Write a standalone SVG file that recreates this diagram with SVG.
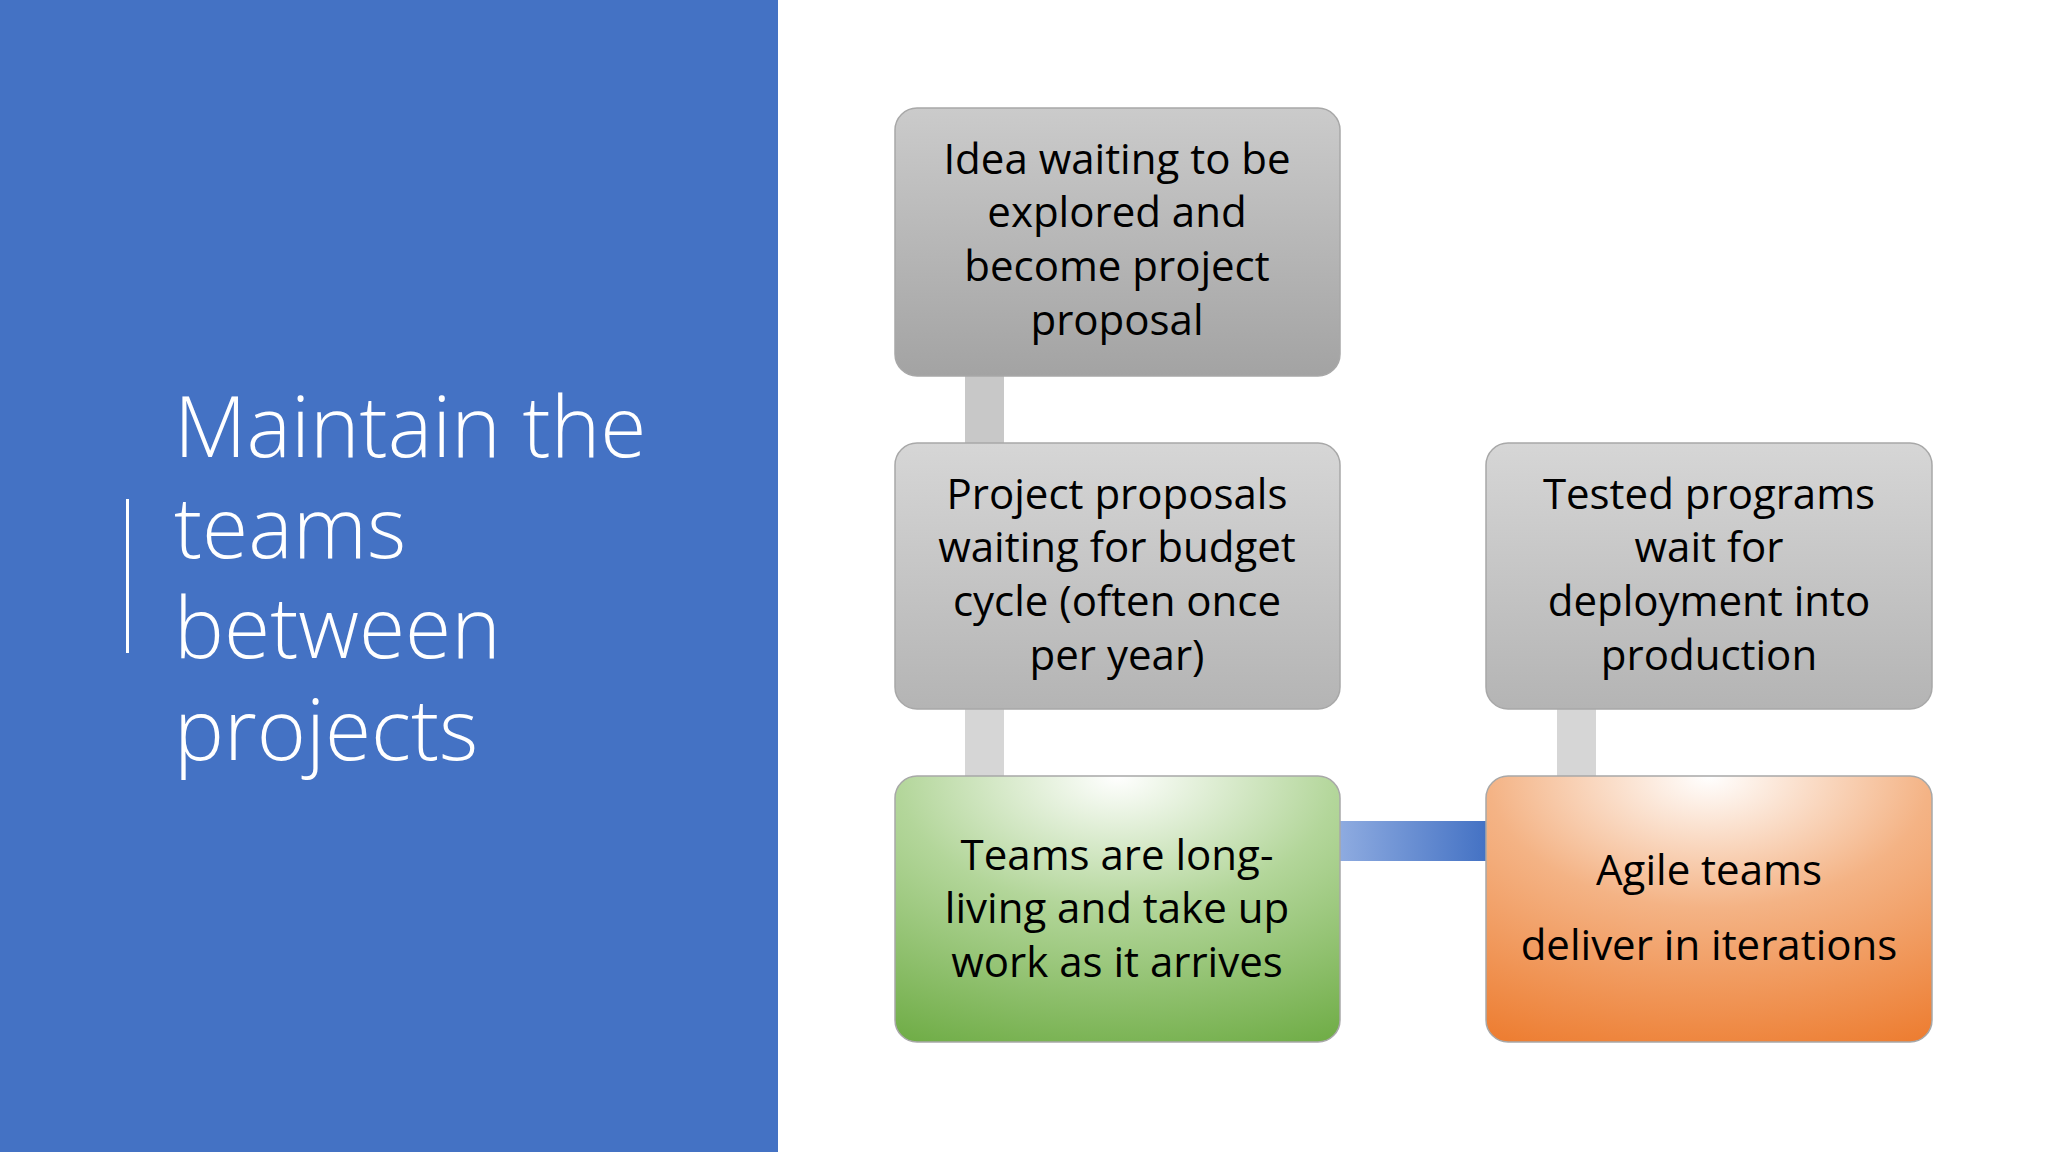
<svg xmlns="http://www.w3.org/2000/svg" width="2048" height="1152" viewBox="0 0 2048 1152">
<defs>
<linearGradient id="g1" x1="0" y1="0" x2="0" y2="1"><stop offset="0" stop-color="#cbcbcb"/><stop offset="1" stop-color="#a3a3a3"/></linearGradient>
<linearGradient id="g2" x1="0" y1="0" x2="0" y2="1"><stop offset="0" stop-color="#d6d6d6"/><stop offset="1" stop-color="#b4b4b4"/></linearGradient>
<radialGradient id="gg" cx="0.5" cy="0" r="1.1"><stop offset="0" stop-color="#ffffff"/><stop offset="0.45" stop-color="#b3d69a"/><stop offset="1" stop-color="#70ad47"/></radialGradient>
<radialGradient id="go" cx="0.5" cy="0" r="1.1"><stop offset="0" stop-color="#ffffff"/><stop offset="0.45" stop-color="#f4b385"/><stop offset="1" stop-color="#ed7d31"/></radialGradient>
<linearGradient id="gb" x1="0" y1="0" x2="1" y2="0"><stop offset="0" stop-color="#8eabe0"/><stop offset="1" stop-color="#4472c4"/></linearGradient>
<style>
.box{stroke:#a8a8a8;stroke-width:1.5}
.t{font-family:"Open Sans","Noto Sans",sans-serif;font-size:42px;fill:#000;text-anchor:middle}
.title{font-family:"Open Sans","Noto Sans",sans-serif;font-weight:300;font-size:84px;fill:#fff}
</style>
</defs>
<rect width="2048" height="1152" fill="#fff"/>
<rect width="778" height="1152" fill="#4472c4"/>
<rect x="126" y="499" width="3" height="154" fill="#fff"/>
<g id="title">
<text class="title" x="174" y="457">Maintain the</text>
<text class="title" x="174" y="558">teams</text>
<text class="title" x="174" y="658">between</text>
<text class="title" x="174" y="760">projects</text>
</g>
<g id="connectors">
<rect x="965" y="376" width="39" height="67" fill="#c8c8c8"/>
<rect x="965" y="709" width="39" height="67" fill="#d6d6d6"/>
<rect x="1557" y="709" width="39" height="67" fill="#d6d6d6"/>
<rect x="1340" y="821" width="146" height="40" fill="url(#gb)"/>
</g>
<g id="n1"><rect class="box" x="895" y="108" width="445" height="268" rx="22" fill="url(#g1)"/>
<text class="t" x="1117" y="174">Idea waiting to be</text><text class="t" x="1117" y="227">explored and</text><text class="t" x="1117" y="281">become project</text><text class="t" x="1117" y="335">proposal</text></g>
<g id="n2"><rect class="box" x="895" y="443" width="445" height="266" rx="22" fill="url(#g2)"/>
<text class="t" x="1117" y="509">Project proposals</text><text class="t" x="1117" y="562">waiting for budget</text><text class="t" x="1117" y="616">cycle (often once</text><text class="t" x="1117" y="670">per year)</text></g>
<g id="n3"><rect class="box" x="895" y="776" width="445" height="266" rx="22" fill="url(#gg)"/>
<text class="t" x="1117" y="870">Teams are long-</text><text class="t" x="1117" y="923">living and take up</text><text class="t" x="1117" y="977">work as it arrives</text></g>
<g id="n4"><rect class="box" x="1486" y="443" width="446" height="266" rx="22" fill="url(#g2)"/>
<text class="t" x="1709" y="509">Tested programs</text><text class="t" x="1709" y="562">wait for</text><text class="t" x="1709" y="616">deployment into</text><text class="t" x="1709" y="670">production</text></g>
<g id="n5"><rect class="box" x="1486" y="776" width="446" height="266" rx="22" fill="url(#go)"/>
<text class="t" x="1709" y="885">Agile teams</text><text class="t" x="1709" y="960">deliver in iterations</text></g>
</svg>
